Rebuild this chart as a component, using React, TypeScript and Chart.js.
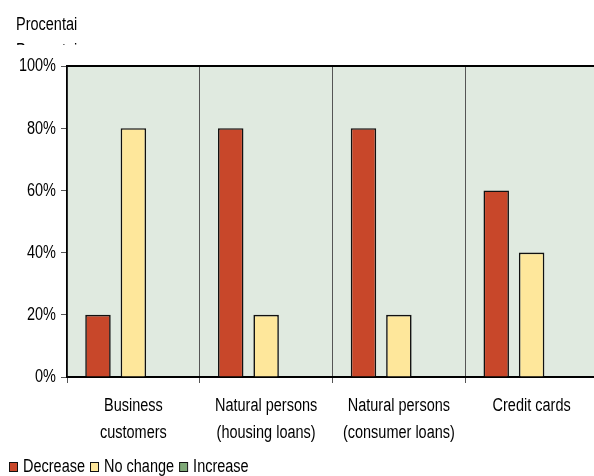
import React, { useEffect, useRef } from "react";
import { Chart, registerables } from "chart.js";

Chart.register(...registerables);

const categories: string[][] = [
  ["Business", "customers"],
  ["Natural persons", "(housing loans)"],
  ["Natural persons", "(consumer loans)"],
  ["Credit cards"],
];
const decrease = [20, 80, 80, 60];
const noChange = [80, 20, 20, 40];
const increase = [0, 0, 0, 0];
const yTicks = [0, 20, 40, 60, 80, 100];
const titleText = "Procentai";
const legendLabels = ["Decrease", "No change", "Increase"];
const colors = ["#C8472A", "#FEE79B", "#7EA877"];

const FONT = "'Liberation Sans', Arial, sans-serif";
const FS = 18;
const SX = 0.805;

function drawText(ctx: any, text: string, x: number, y: number, align: "left" | "right" | "center", baseline: any) {
  ctx.save();
  ctx.font = `${FS}px ${FONT}`;
  ctx.textBaseline = baseline;
  const w = ctx.measureText(text).width * SX;
  let left = x;
  if (align === "right") left = x - w;
  else if (align === "center") left = x - w / 2;
  ctx.translate(left, y);
  ctx.scale(SX, 1);
  ctx.textAlign = "left";
  ctx.fillText(text, 0, 0);
  ctx.restore();
  return w;
}

export default function App() {
  const ref = useRef<HTMLCanvasElement | null>(null);
  useEffect(() => {
    if (!ref.current) return;
    const bgPlugin = {
      id: "bgPlugin",
      beforeDraw(chart: any) {
        const { ctx, chartArea } = chart;
        ctx.save();
        ctx.fillStyle = "#fff";
        ctx.fillRect(0, 0, chart.width, chart.height);
        ctx.fillStyle = "#E0EAE0";
        ctx.fillRect(chartArea.left, chartArea.top, chartArea.right - chartArea.left, chartArea.bottom - chartArea.top);
        ctx.restore();
      },
      afterDraw(chart: any) {
        const { ctx, chartArea } = chart;
        ctx.save();
        ctx.strokeStyle = "#000";
        ctx.lineWidth = 2;
        ctx.beginPath();
        ctx.moveTo(chartArea.left, chartArea.top);
        ctx.lineTo(chart.width, chartArea.top);
        ctx.stroke();
        ctx.fillStyle = "#000";
        // title
        drawText(ctx, titleText, 16, 30, "left", "alphabetic");
        ctx.save();
        ctx.beginPath();
        ctx.rect(0, 0, 200, 45);
        ctx.clip();
        drawText(ctx, titleText, 16, 56, "left", "alphabetic");
        ctx.restore();
        // y tick labels
        const ys = chart.scales.y;
        yTicks.forEach((v) => {
          drawText(ctx, `${v}%`, 56, ys.getPixelForValue(v) + 0.5, "right", "middle");
        });
        // x tick labels
        const xs = chart.scales.x;
        categories.forEach((lines, i) => {
          const cx = xs.getPixelForValue(i);
          lines.forEach((ln, j) => {
            drawText(ctx, ln, cx, 411 + j * 26.5, "center", "alphabetic");
          });
        });
        // legend
        let x = 9;
        legendLabels.forEach((lab, i) => {
          ctx.fillStyle = colors[i];
          ctx.fillRect(x, 462, 8, 9);
          ctx.strokeStyle = "#111";
          ctx.lineWidth = 1;
          ctx.strokeRect(x + 0.5, 462.5, 8, 9);
          ctx.fillStyle = "#000";
          const w = drawText(ctx, lab, x + 14, 472, "left", "alphabetic");
          x += 14 + w + 5;
        });
        ctx.restore();
      },
    };
    const chart = new Chart(ref.current, {
      type: "bar",
      data: {
        labels: categories,
        datasets: [
          { label: legendLabels[0], data: decrease, backgroundColor: colors[0], borderColor: "#111", borderWidth: 1.6 },
          { label: legendLabels[1], data: noChange, backgroundColor: colors[1], borderColor: "#111", borderWidth: 1.6 },
          { label: legendLabels[2], data: increase, backgroundColor: colors[2], borderColor: "#111", borderWidth: 0 },
        ],
      },
      options: {
        animation: false,
        responsive: false,
        devicePixelRatio: 1,
        layout: { padding: { top: 66, right: 2, left: 0, bottom: 0 } },
        datasets: { bar: { categoryPercentage: 0.8, barPercentage: 0.72 } },
        plugins: { legend: { display: false }, tooltip: { enabled: false }, title: { display: false } },
        scales: {
          x: {
            grid: { color: "#555", lineWidth: 1, tickLength: 6, offset: true, tickColor: "#555" },
            border: { color: "#000", width: 2 },
            ticks: { display: false, autoSkip: false, maxRotation: 0 },
            afterFit(scale: any) { scale.height = 99; },
          },
          y: {
            min: 0,
            max: 100,
            afterBuildTicks(scale: any) { scale.ticks = yTicks.map((v) => ({ value: v })); },
            grid: { drawOnChartArea: false, tickLength: 6, tickColor: "#555", color: "#555" },
            border: { color: "#000", width: 1.5 },
            ticks: { display: false },
            afterFit(scale: any) { scale.width = 67; },
          },
        },
      },
      plugins: [bgPlugin],
    });
    return () => chart.destroy();
  }, []);
  return (
    <div style={{ position: "fixed", left: 0, top: 0, width: 594, height: 476, overflow: "hidden", background: "#fff" }}>
      <canvas ref={ref} width={600} height={476} style={{ width: 600, height: 476, display: "block" }} />
    </div>
  );
}
